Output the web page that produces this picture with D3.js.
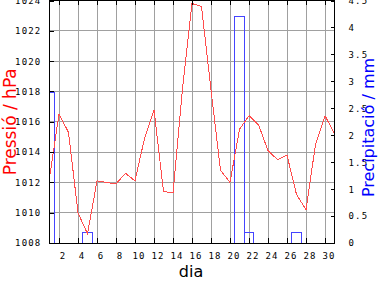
<!DOCTYPE html>
<html>
<head>
<meta charset="utf-8">
<script src="https://cdn.jsdelivr.net/npm/d3@7"></script>
<style>
html,body{margin:0;padding:0;background:#fff;}
svg{display:block;}
</style>
</head>
<body>
<script>
const days = d3.range(1, 32);
const pressure = [1012.3, 1016.5, 1015.3, 1010.0, 1008.6, 1012.1, 1012.0, 1011.9, 1012.6, 1012.1,
  1014.9, 1016.8, 1011.4, 1011.3, 1018.2, 1023.8, 1023.6, 1018.1, 1012.8, 1012.0,
  1015.5, 1016.4, 1015.8, 1014.1, 1013.5, 1013.8, 1011.2, 1010.2, 1014.5, 1016.4, 1015.2];
const precipDays = [1, 5, 21, 22, 27];
const precipValues = [2.8, 0.2, 4.2, 0.2, 0.2];
const dayTicks = d3.range(2, 31, 2);
const pressureTicks = [1008, 1010, 1012, 1014, 1016, 1018, 1020, 1022, 1024];
const precipTicks = [0, 0.5, 1, 1.5, 2, 2.5, 3, 3.5, 4, 4.5];

const W = 384, H = 288;
const L = 49.5, R = 334.5, T = 0.5, B = 243;

const svg = d3.select("body").append("svg").attr("width", W).attr("height", H);

const x = d3.scaleLinear().domain([1, 31]).range([L, R]);
const y = d3.scaleLinear().domain([1008, 1024]).range([B, T]);
const y2 = d3.scaleLinear().domain([0, 4.5]).range([B, T]);

svg.append("defs").append("clipPath").attr("id", "plot")
  .append("rect").attr("x", L).attr("y", T).attr("width", R - L).attr("height", B - T);

// grid
const grid = svg.append("g").attr("stroke", "#a0a0a0").attr("stroke-width", 1).attr("shape-rendering", "crispEdges");
grid.selectAll("line.v").data(dayTicks).join("line").attr("class", "v")
  .attr("x1", d => x(d)).attr("x2", d => x(d)).attr("y1", T).attr("y2", B);
grid.selectAll("line.h").data(pressureTicks.filter(v => v > 1008 && v < 1024)).join("line").attr("class", "h")
  .attr("x1", L).attr("x2", R).attr("y1", d => y(d)).attr("y2", d => y(d));

// bars
const plot = svg.append("g").attr("clip-path", "url(#plot)");
plot.selectAll("rect.bar").data(precipDays.map((d, i) => ({d, v: precipValues[i]}))).join("rect")
  .attr("class", "bar")
  .attr("x", p => x(p.d - 0.5)).attr("width", p => x(p.d + 0.5) - x(p.d - 0.5))
  .attr("y", p => y2(p.v)).attr("height", p => B - y2(p.v))
  .attr("fill", "none").attr("stroke", "#4444ff").attr("stroke-width", 1)
  .attr("shape-rendering", "crispEdges");

// line
const line = d3.line().x((d, i) => x(days[i])).y(d => y(d));
plot.append("path").datum(pressure).attr("d", line)
  .attr("fill", "none").attr("stroke", "#ff4d4d").attr("stroke-width", 1)
  .attr("shape-rendering", "crispEdges");

// frame
svg.append("rect").attr("x", L).attr("y", T).attr("width", R - L).attr("height", B - T)
  .attr("fill", "none").attr("stroke", "#000").attr("stroke-width", 1).attr("shape-rendering", "crispEdges");

const tickFont = g => g.selectAll("text").attr("font-family", "DejaVu Sans Mono").attr("font-size", 9).attr("letter-spacing", 1.2).attr("fill", "#000");

// axes
const yAxisL = d3.axisLeft(y).tickValues(pressureTicks).tickSize(-4).tickPadding(8).tickFormat(d3.format("d"));
svg.append("g").attr("transform", `translate(${L},0)`).call(yAxisL)
  .call(g => g.select(".domain").remove())
  .call(g => g.selectAll("line").attr("shape-rendering", "crispEdges"))
  .call(tickFont);

const yAxisR = d3.axisRight(y2).tickValues(precipTicks).tickSize(-4).tickPadding(14).tickFormat(d => d3.format("")(d));
svg.append("g").attr("transform", `translate(${R},0)`).call(yAxisR)
  .call(g => g.select(".domain").remove())
  .call(g => g.selectAll("line").attr("shape-rendering", "crispEdges"))
  .call(tickFont);

const xAxisB = d3.axisBottom(x).tickValues(dayTicks).tickSize(-5).tickPadding(10);
svg.append("g").attr("transform", `translate(0,${B})`).call(xAxisB)
  .call(g => g.select(".domain").remove())
  .call(g => g.selectAll("line").attr("shape-rendering", "crispEdges"))
  .call(tickFont)
  .call(g => g.selectAll("text").attr("dx", 3.5));

const xAxisT = d3.axisTop(x).tickValues(dayTicks).tickSize(-4).tickFormat("");
svg.append("g").attr("transform", `translate(0,${T})`).call(xAxisT)
  .call(g => g.select(".domain").remove())
  .call(g => g.selectAll("line").attr("shape-rendering", "crispEdges"));

// titles
svg.append("text").text("Pressió / hPa")
  .attr("transform", `translate(15.5,${(T + B) / 2}) rotate(-90)`)
  .attr("text-anchor", "middle").attr("font-family", "DejaVu Sans").attr("font-size", 17)
  .attr("fill", "#ff0000");
svg.append("text").text("Precipitació / mm")
  .attr("transform", `translate(373.5,127.5) rotate(-90)`)
  .attr("text-anchor", "middle").attr("font-family", "DejaVu Sans").attr("font-size", 16)
  .attr("fill", "#0000ff");
svg.append("text").text("dia")
  .attr("x", 191).attr("y", 277)
  .attr("text-anchor", "middle").attr("font-family", "DejaVu Sans").attr("font-size", 16)
  .attr("fill", "#000");
</script>
</body>
</html>
